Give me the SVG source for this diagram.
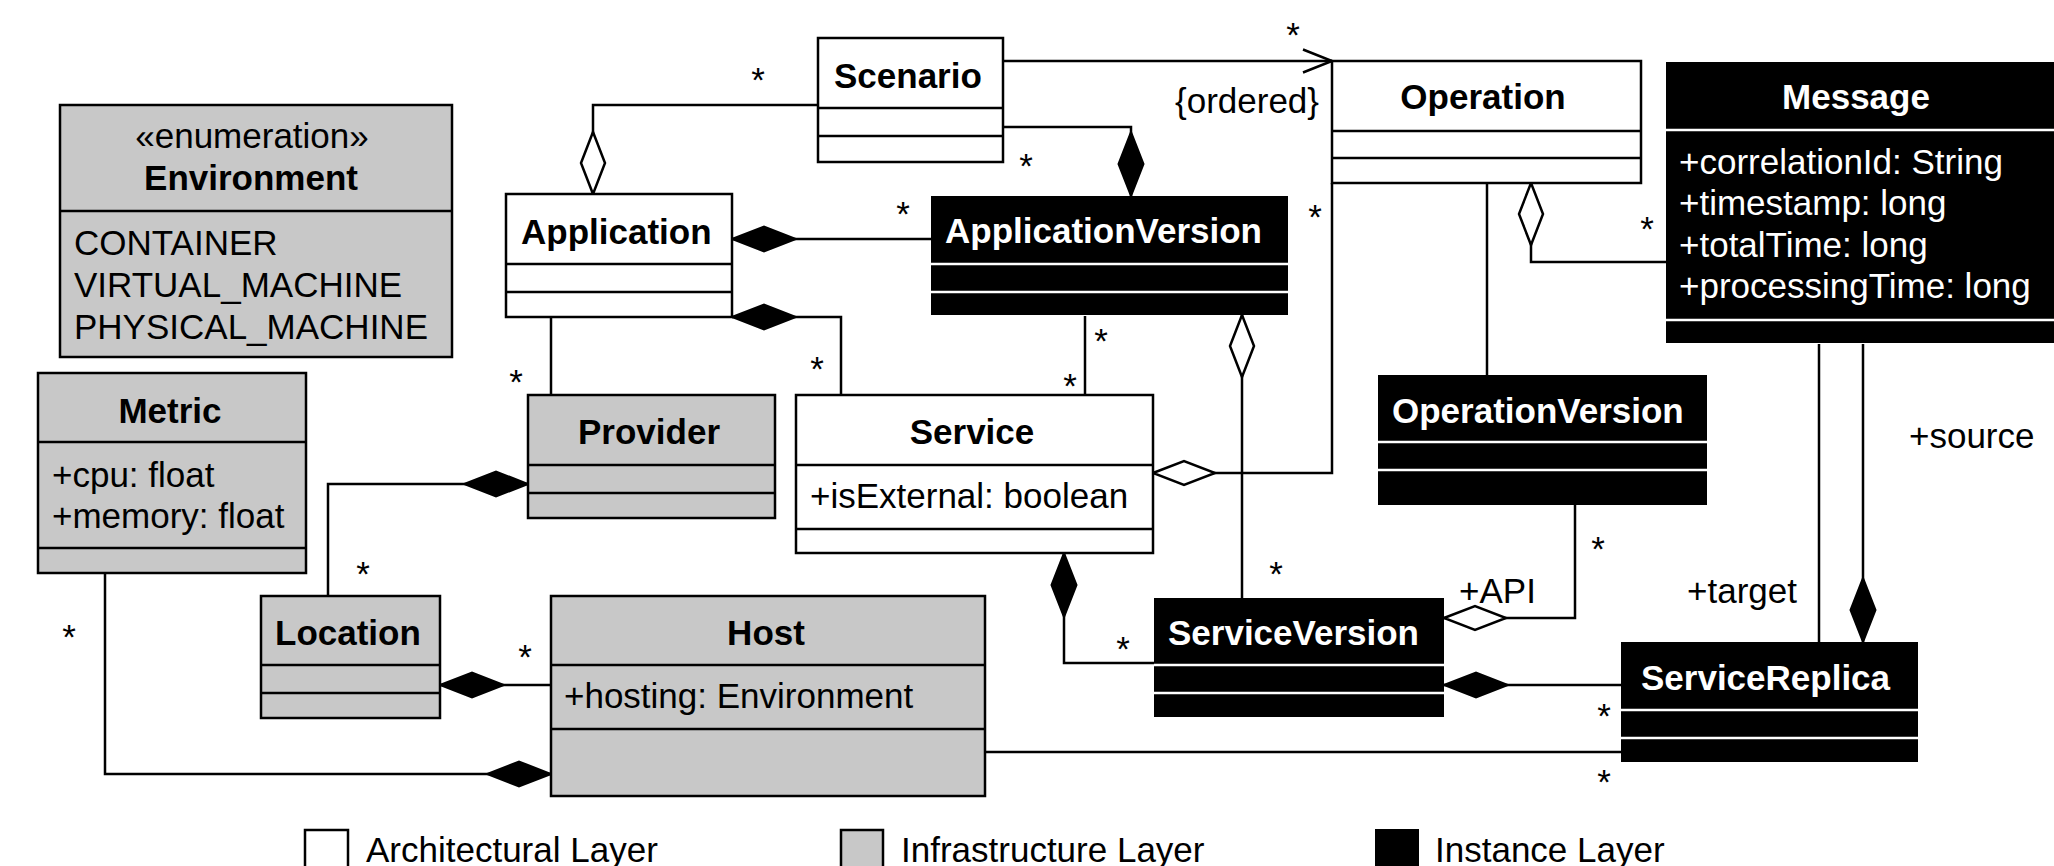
<svg xmlns="http://www.w3.org/2000/svg" width="2054" height="866" viewBox="0 0 2054 866">
  <style>
    text { font-family: "Liberation Sans", Arial, sans-serif; font-size: 35px; fill: #000; }
    .b { font-weight: bold; }
    .w { fill: #fff; }
    .mid { text-anchor: middle; }
    .arch { fill: #fff; stroke: #000; stroke-width: 2.5; }
    .infra { fill: #c8c8c8; stroke: #000; stroke-width: 2.5; }
    .inst { fill: #000; stroke: none; }
    .sep { stroke: #000; stroke-width: 2.5; }
    .wsep { stroke: #fff; stroke-width: 2.5; }
    .conn { fill: none; stroke: #000; stroke-width: 2.5; }
  </style>
  <defs>
    <!-- composition: filled diamond placed at the start of a path -->
    <marker id="comp" markerUnits="userSpaceOnUse" viewBox="-2 -15 68 30" markerWidth="68" markerHeight="30" refX="0" refY="0" orient="auto">
      <path d="M0,0 L32,-12.5 L64,0 L32,12.5 Z" fill="#000" stroke="#000" stroke-width="2"/>
    </marker>
    <!-- aggregation: hollow diamond placed at the start of a path -->
    <marker id="aggr" markerUnits="userSpaceOnUse" viewBox="-2 -15 68 30" markerWidth="68" markerHeight="30" refX="0" refY="0" orient="auto">
      <path d="M0,0 L31,-12 L62,0 L31,12 Z" fill="#fff" stroke="#000" stroke-width="2.5"/>
    </marker>
    <!-- navigable end: open arrowhead -->
    <marker id="open" markerUnits="userSpaceOnUse" viewBox="-32 -14 36 28" markerWidth="36" markerHeight="28" refX="0" refY="0" orient="auto">
      <path d="M-29,-11.5 L0,0 L-29,11.5" fill="none" stroke="#000" stroke-width="2.5"/>
    </marker>
  </defs>

  <rect width="2054" height="866" fill="#fff"/>

  <!-- connectors -->
  <g id="connectors">
    <path class="conn" d="M593,194 V105 H818" marker-start="url(#aggr)"/>
    <path class="conn" d="M1003,61 H1332" marker-end="url(#open)"/>
    <path class="conn" d="M1131,196 V127 H1003" marker-start="url(#comp)"/>
    <path class="conn" d="M732,239 H931" marker-start="url(#comp)"/>
    <path class="conn" d="M732,317 H841 V395" marker-start="url(#comp)"/>
    <path class="conn" d="M551,317 V395"/>
    <path class="conn" d="M1085,316 V395"/>
    <path class="conn" d="M1242,315 V598" marker-start="url(#aggr)"/>
    <path class="conn" d="M1153,473 H1332 V183" marker-start="url(#aggr)"/>
    <path class="conn" d="M1487,183 V375"/>
    <path class="conn" d="M1531,183 V262 H1666" marker-start="url(#aggr)"/>
    <path class="conn" d="M528,484 H328 V596" marker-start="url(#comp)"/>
    <path class="conn" d="M440,685 H551" marker-start="url(#comp)"/>
    <path class="conn" d="M551,774 H105 V573" marker-start="url(#comp)"/>
    <path class="conn" d="M1064,553 V663 H1154" marker-start="url(#comp)"/>
    <path class="conn" d="M1444,618 H1575 V505" marker-start="url(#aggr)"/>
    <path class="conn" d="M1444,685 H1621" marker-start="url(#comp)"/>
    <path class="conn" d="M985,752 H1621"/>
    <path class="conn" d="M1819,344 V642"/>
    <path class="conn" d="M1863,642 V344" marker-start="url(#comp)"/>
  </g>

  <!-- multiplicities and role names -->
  <g id="labels">
    <text class="mid" x="758" y="92">*</text>
    <text class="mid" x="1293" y="47">*</text>
    <text class="mid" x="1026" y="178">*</text>
    <text class="mid" x="903" y="226">*</text>
    <text class="mid" x="1315" y="229">*</text>
    <text class="mid" x="516" y="394">*</text>
    <text class="mid" x="817" y="381">*</text>
    <text class="mid" x="1101" y="353">*</text>
    <text class="mid" x="1070" y="398">*</text>
    <text class="mid" x="1647" y="241">*</text>
    <text class="mid" x="363" y="586">*</text>
    <text class="mid" x="525" y="669">*</text>
    <text class="mid" x="69" y="649">*</text>
    <text class="mid" x="1276" y="586">*</text>
    <text class="mid" x="1123" y="661">*</text>
    <text class="mid" x="1598" y="561">*</text>
    <text class="mid" x="1604" y="728">*</text>
    <text class="mid" x="1604" y="794">*</text>
    <text x="1175" y="113">{ordered}</text>
    <text x="1459" y="603">+API</text>
    <text x="1687" y="603">+target</text>
    <text x="1909" y="448">+source</text>
  </g>

  <!-- architectural layer -->
  <g id="Scenario">
    <rect class="arch" x="818" y="38" width="185" height="124"/>
    <line class="sep" x1="818" y1="108" x2="1003" y2="108"/>
    <line class="sep" x1="818" y1="136" x2="1003" y2="136"/>
    <text class="b" x="834" y="88">Scenario</text>
  </g>
  <g id="Operation">
    <rect class="arch" x="1332" y="61" width="309" height="122"/>
    <line class="sep" x1="1332" y1="131" x2="1641" y2="131"/>
    <line class="sep" x1="1332" y1="158" x2="1641" y2="158"/>
    <text class="b mid" x="1483" y="109">Operation</text>
  </g>
  <g id="Application">
    <rect class="arch" x="506" y="194" width="226" height="123"/>
    <line class="sep" x1="506" y1="264" x2="732" y2="264"/>
    <line class="sep" x1="506" y1="292" x2="732" y2="292"/>
    <text class="b" x="521" y="244">Application</text>
  </g>
  <g id="Service">
    <rect class="arch" x="796" y="395" width="357" height="158"/>
    <line class="sep" x1="796" y1="465" x2="1153" y2="465"/>
    <line class="sep" x1="796" y1="529" x2="1153" y2="529"/>
    <text class="b mid" x="972" y="444">Service</text>
    <text x="810" y="508">+isExternal: boolean</text>
  </g>

  <!-- infrastructure layer -->
  <g id="Environment">
    <rect class="infra" x="60" y="105" width="392" height="252"/>
    <line class="sep" x1="60" y1="211" x2="452" y2="211"/>
    <text class="mid" x="252" y="148">«enumeration»</text>
    <text class="b mid" x="251" y="190">Environment</text>
    <text x="74" y="255">CONTAINER</text>
    <text x="74" y="297">VIRTUAL_MACHINE</text>
    <text x="74" y="339">PHYSICAL_MACHINE</text>
  </g>
  <g id="Metric">
    <rect class="infra" x="38" y="373" width="268" height="200"/>
    <line class="sep" x1="38" y1="442" x2="306" y2="442"/>
    <line class="sep" x1="38" y1="548" x2="306" y2="548"/>
    <text class="b mid" x="170" y="423">Metric</text>
    <text x="52" y="487">+cpu: float</text>
    <text x="52" y="528">+memory: float</text>
  </g>
  <g id="Provider">
    <rect class="infra" x="528" y="395" width="247" height="123"/>
    <line class="sep" x1="528" y1="465" x2="775" y2="465"/>
    <line class="sep" x1="528" y1="493" x2="775" y2="493"/>
    <text class="b mid" x="649" y="444">Provider</text>
  </g>
  <g id="Location">
    <rect class="infra" x="261" y="596" width="179" height="122"/>
    <line class="sep" x1="261" y1="665" x2="440" y2="665"/>
    <line class="sep" x1="261" y1="693" x2="440" y2="693"/>
    <text class="b" x="275" y="645">Location</text>
  </g>
  <g id="Host">
    <rect class="infra" x="551" y="596" width="434" height="200"/>
    <line class="sep" x1="551" y1="665" x2="985" y2="665"/>
    <line class="sep" x1="551" y1="729" x2="985" y2="729"/>
    <text class="b mid" x="766" y="645">Host</text>
    <text x="564" y="708">+hosting: Environment</text>
  </g>

  <!-- instance layer -->
  <g id="Message">
    <rect class="inst" x="1666" y="62" width="400" height="281"/>
    <line class="wsep" x1="1666" y1="130" x2="2066" y2="130"/>
    <line class="wsep" x1="1666" y1="320" x2="2066" y2="320"/>
    <text class="b w mid" x="1856" y="109">Message</text>
    <text class="w" x="1679" y="174">+correlationId: String</text>
    <text class="w" x="1679" y="215">+timestamp: long</text>
    <text class="w" x="1679" y="257">+totalTime: long</text>
    <text class="w" x="1679" y="298">+processingTime: long</text>
  </g>
  <g id="ApplicationVersion">
    <rect class="inst" x="931" y="196" width="357" height="119"/>
    <line class="wsep" x1="931" y1="264" x2="1288" y2="264"/>
    <line class="wsep" x1="931" y1="292" x2="1288" y2="292"/>
    <text class="b w" x="945" y="243">ApplicationVersion</text>
  </g>
  <g id="OperationVersion">
    <rect class="inst" x="1378" y="375" width="329" height="130"/>
    <line class="wsep" x1="1378" y1="442" x2="1707" y2="442"/>
    <line class="wsep" x1="1378" y1="470" x2="1707" y2="470"/>
    <text class="b w" x="1392" y="423">OperationVersion</text>
  </g>
  <g id="ServiceVersion">
    <rect class="inst" x="1154" y="598" width="290" height="119"/>
    <line class="wsep" x1="1154" y1="665" x2="1444" y2="665"/>
    <line class="wsep" x1="1154" y1="693" x2="1444" y2="693"/>
    <text class="b w" x="1168" y="645">ServiceVersion</text>
  </g>
  <g id="ServiceReplica">
    <rect class="inst" x="1621" y="642" width="297" height="120"/>
    <line class="wsep" x1="1621" y1="710" x2="1918" y2="710"/>
    <line class="wsep" x1="1621" y1="738" x2="1918" y2="738"/>
    <text class="b w" x="1641" y="690">ServiceReplica</text>
  </g>

  <!-- legend -->
  <g id="legend">
    <rect class="arch" x="305" y="830" width="43" height="44"/>
    <text x="366" y="862">Architectural Layer</text>
    <rect class="infra" x="841" y="830" width="42" height="44"/>
    <text x="901" y="862">Infrastructure Layer</text>
    <rect class="inst" x="1375" y="829" width="44" height="45"/>
    <text x="1435" y="862">Instance Layer</text>
  </g>
</svg>
